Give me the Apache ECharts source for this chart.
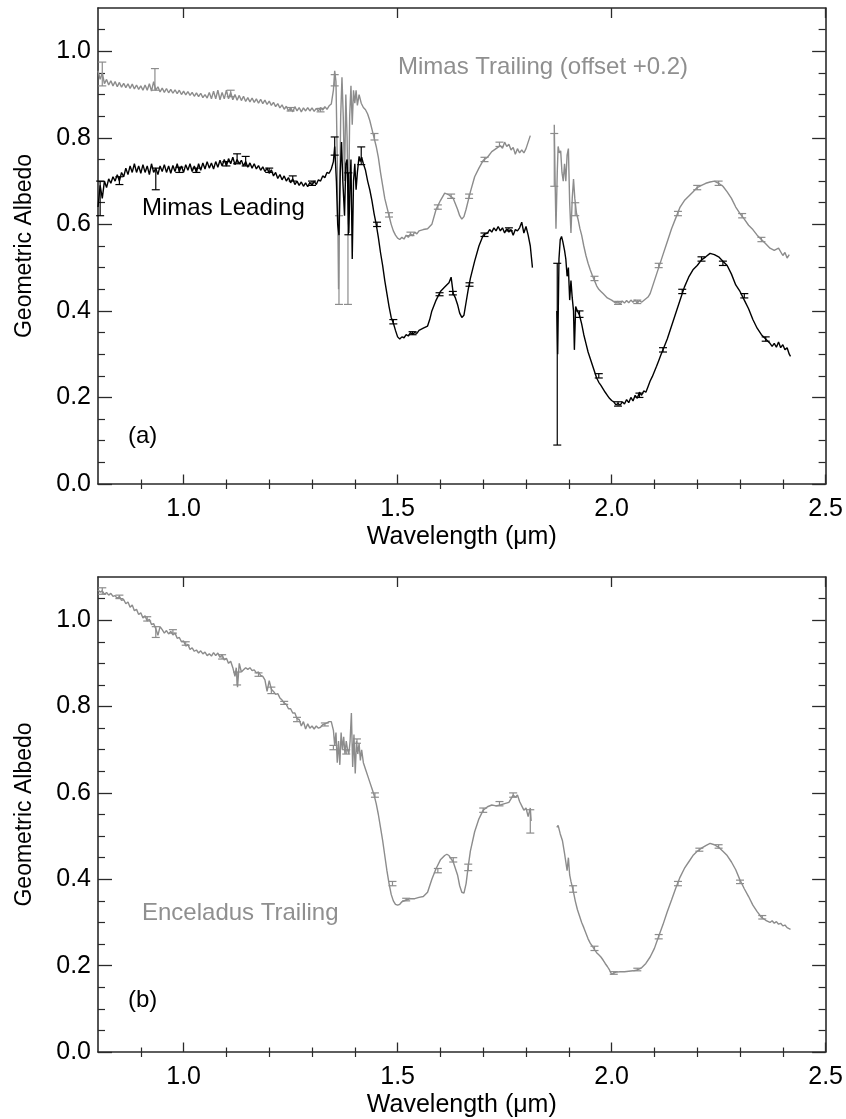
<!DOCTYPE html>
<html>
<head>
<meta charset="utf-8">
<script src="https://cdn.jsdelivr.net/npm/echarts@6/dist/echarts.min.js"></script>
<style>html,body{margin:0;padding:0;background:#fff}#c{width:846px;height:1119px}</style>
</head>
<body>
<div id="c"></div>
<script>
// ---------- tick values ----------
const xMajorTicks = [1.0, 1.5, 2.0, 2.5];
const xMinorTicks = [0.9, 1.1, 1.2, 1.3, 1.4, 1.6, 1.7, 1.8, 1.9, 2.1, 2.2, 2.3, 2.4];
const yMajorTicks = [0.0, 0.2, 0.4, 0.6, 0.8, 1.0];
const yMinorTicks = [0.05, 0.1, 0.15, 0.25, 0.3, 0.35, 0.45, 0.5, 0.55, 0.65, 0.7, 0.75, 0.85, 0.9, 0.95, 1.05];

// ---------- (a) Mimas Leading : [wavelength um, geometric albedo] ----------
const mimasLeading1 = [
[0.800,0.64],[0.805,0.69],[0.810,0.66],[0.815,0.70],[0.820,0.685],[0.825,0.705],[0.830,0.695],[0.835,0.71],[0.840,0.70],[0.845,0.715],
[0.850,0.70],[0.855,0.72],[0.860,0.71],[0.865,0.73],[0.870,0.715],[0.875,0.735],[0.880,0.72],[0.885,0.74],[0.890,0.72],[0.895,0.735],
[0.900,0.718],[0.905,0.738],[0.910,0.72],[0.915,0.735],[0.920,0.715],[0.925,0.74],[0.930,0.72],[0.935,0.73],[0.940,0.715],[0.945,0.735],
[0.950,0.722],[0.955,0.738],[0.960,0.72],[0.965,0.735],[0.970,0.718],[0.975,0.736],[0.980,0.722],[0.985,0.74],[0.990,0.722],[0.995,0.735],
[1.000,0.72],[1.005,0.738],[1.010,0.725],[1.015,0.74],[1.020,0.722],[1.025,0.735],[1.030,0.72],[1.035,0.74],[1.040,0.725],[1.045,0.742],
[1.050,0.728],[1.055,0.745],[1.060,0.73],[1.065,0.742],[1.070,0.728],[1.075,0.745],[1.080,0.732],[1.085,0.748],[1.090,0.735],[1.095,0.75],
[1.100,0.735],[1.105,0.752],[1.110,0.74],[1.115,0.755],[1.120,0.738],[1.125,0.75],[1.130,0.74],[1.135,0.748],[1.140,0.735],[1.145,0.745],
[1.150,0.732],[1.155,0.742],[1.160,0.73],[1.165,0.74],[1.170,0.728],[1.175,0.736],[1.180,0.725],[1.185,0.733],[1.190,0.722],[1.195,0.73],
[1.200,0.718],[1.205,0.726],[1.210,0.712],[1.215,0.72],[1.220,0.706],[1.225,0.715],[1.230,0.703],[1.235,0.712],[1.240,0.70],[1.245,0.708],
[1.250,0.696],[1.255,0.705],[1.260,0.692],[1.265,0.70],[1.270,0.69],[1.275,0.698],[1.280,0.688],[1.285,0.696],[1.290,0.687],[1.295,0.697],
[1.300,0.69],[1.305,0.70],[1.310,0.692],[1.315,0.703],[1.320,0.70],[1.325,0.712],[1.330,0.708],[1.335,0.72],[1.340,0.718],[1.345,0.728],
[1.350,0.745],[1.353,0.78],
[1.357,0.70],[1.360,0.60],[1.363,0.575],[1.366,0.72],[1.369,0.79],[1.372,0.70],[1.376,0.62],[1.379,0.74],[1.382,0.75],[1.386,0.58],
[1.389,0.70],[1.391,0.75],[1.394,0.52],[1.397,0.70],[1.400,0.74],[1.403,0.68],[1.406,0.72],[1.410,0.757],[1.413,0.745],[1.416,0.755],
[1.420,0.74],[1.425,0.725],[1.430,0.70],[1.435,0.68],[1.440,0.655],[1.445,0.625],[1.450,0.60],[1.455,0.57],[1.460,0.535],[1.465,0.505],
[1.470,0.47],[1.475,0.44],[1.480,0.41],[1.485,0.385],[1.490,0.372],[1.495,0.355],[1.500,0.34],[1.505,0.335],[1.510,0.34],[1.515,0.338],
[1.520,0.345],[1.525,0.342],[1.530,0.35],[1.535,0.346],[1.540,0.35],[1.545,0.348],[1.550,0.355],[1.560,0.36],[1.570,0.365],[1.575,0.38],
[1.580,0.40],[1.590,0.425],[1.600,0.445],[1.610,0.455],
[1.620,0.465],[1.625,0.478],[1.630,0.44],[1.635,0.43],[1.640,0.415],[1.645,0.395],[1.650,0.385],[1.655,0.39],[1.660,0.42],[1.665,0.45],
[1.670,0.475],[1.680,0.515],[1.690,0.55],[1.700,0.575],[1.705,0.578],[1.710,0.58],[1.715,0.588],[1.720,0.582],[1.725,0.592],[1.730,0.585],
[1.735,0.595],[1.740,0.585],[1.745,0.592],[1.750,0.58],[1.755,0.59],[1.760,0.582],[1.765,0.588],[1.770,0.575],[1.775,0.588],[1.780,0.585],
[1.785,0.592],[1.790,0.605],[1.795,0.58],[1.800,0.595],[1.805,0.575],[1.810,0.55],[1.815,0.50]
];
const mimasLeading2 = [
[1.872,0.40],[1.874,0.30],[1.877,0.52],[1.880,0.565],[1.883,0.572],[1.886,0.56],[1.890,0.54],[1.893,0.52],[1.896,0.48],[1.899,0.50],
[1.902,0.425],[1.905,0.47],[1.908,0.43],[1.911,0.40],[1.913,0.31],[1.916,0.41],[1.920,0.40],[1.925,0.39],[1.930,0.37],[1.935,0.345],
[1.940,0.325],[1.945,0.305],[1.950,0.29],[1.955,0.275],[1.960,0.26],[1.965,0.245],[1.970,0.235],[1.975,0.228],[1.980,0.22],[1.985,0.212],
[1.990,0.205],[1.995,0.198],[2.000,0.193],[2.005,0.19],[2.010,0.183],[2.015,0.186],[2.020,0.182],[2.025,0.19],[2.030,0.185],[2.035,0.195],
[2.040,0.188],[2.045,0.2],[2.050,0.192],[2.055,0.205],[2.060,0.198],[2.065,0.212],[2.070,0.205],[2.075,0.215],[2.080,0.212],[2.085,0.225],
[2.090,0.238],[2.095,0.248],[2.100,0.26],[2.105,0.272],[2.110,0.285],[2.115,0.298],[2.120,0.31],[2.130,0.335],[2.140,0.365],[2.150,0.395],
[2.160,0.425],[2.170,0.455],[2.180,0.478],[2.190,0.495],[2.200,0.505],[2.210,0.518],[2.220,0.525],[2.230,0.533],[2.240,0.53],[2.250,0.525],
[2.260,0.515],[2.270,0.505],[2.280,0.485],[2.290,0.46],[2.300,0.445],[2.310,0.425],[2.320,0.405],[2.330,0.38],[2.340,0.36],[2.350,0.345],
[2.360,0.335],[2.365,0.33],[2.370,0.325],[2.375,0.318],[2.380,0.325],[2.385,0.316],[2.390,0.328],[2.395,0.315],[2.400,0.322],[2.405,0.31],
[2.410,0.315],[2.415,0.30],[2.418,0.295]
];
// ---------- (a) Mimas Trailing, plotted with offset +0.2 ----------
const mimasTrailing1 = [
[0.800,0.955],[0.805,0.935],[0.810,0.95],[0.815,0.925],[0.820,0.935],[0.825,0.922],[0.830,0.932],[0.835,0.92],[0.840,0.93],[0.845,0.918],
[0.850,0.928],[0.855,0.917],[0.860,0.926],[0.865,0.916],[0.870,0.925],[0.875,0.914],[0.880,0.924],[0.885,0.913],[0.890,0.922],[0.895,0.912],
[0.900,0.92],[0.905,0.91],[0.910,0.922],[0.915,0.91],[0.920,0.925],[0.925,0.908],[0.930,0.93],[0.935,0.91],[0.940,0.918],[0.945,0.906],
[0.950,0.915],[0.955,0.905],[0.960,0.914],[0.965,0.904],[0.970,0.912],[0.975,0.903],[0.980,0.911],[0.985,0.902],[0.990,0.91],[0.995,0.90],
[1.000,0.908],[1.005,0.899],[1.010,0.907],[1.015,0.898],[1.020,0.905],[1.025,0.896],[1.030,0.904],[1.035,0.895],[1.040,0.903],[1.045,0.893],
[1.050,0.90],[1.055,0.892],[1.060,0.905],[1.065,0.89],[1.070,0.908],[1.075,0.89],[1.080,0.91],[1.085,0.888],[1.090,0.905],[1.095,0.89],
[1.100,0.91],[1.105,0.89],[1.110,0.905],[1.115,0.888],[1.120,0.90],[1.125,0.887],[1.130,0.898],[1.135,0.886],[1.140,0.896],[1.145,0.884],
[1.150,0.893],[1.155,0.883],[1.160,0.892],[1.165,0.882],[1.170,0.89],[1.175,0.88],[1.180,0.889],[1.185,0.879],[1.190,0.887],[1.195,0.877],
[1.200,0.885],[1.205,0.875],[1.210,0.882],[1.215,0.872],[1.220,0.879],[1.225,0.869],[1.230,0.876],[1.235,0.866],[1.240,0.873],[1.245,0.862],
[1.250,0.87],[1.255,0.86],[1.260,0.872],[1.265,0.862],[1.270,0.87],[1.275,0.86],[1.280,0.869],[1.285,0.862],[1.290,0.87],[1.295,0.862],
[1.300,0.869],[1.305,0.861],[1.310,0.868],[1.315,0.862],[1.320,0.87],[1.325,0.864],[1.330,0.872],[1.335,0.866],[1.340,0.874],[1.345,0.878],
[1.350,0.91],[1.353,0.955],
[1.356,0.93],[1.359,0.75],[1.362,0.45],[1.364,0.60],[1.367,0.85],[1.370,0.94],[1.373,0.85],[1.376,0.70],[1.379,0.90],[1.382,0.80],
[1.385,0.60],[1.388,0.85],[1.391,0.92],[1.394,0.83],[1.397,0.91],[1.400,0.88],[1.403,0.91],[1.406,0.875],[1.410,0.90],[1.415,0.88],
[1.420,0.87],[1.425,0.865],[1.430,0.855],[1.435,0.84],[1.440,0.82],[1.445,0.80],[1.450,0.78],[1.455,0.755],[1.460,0.72],[1.465,0.69],
[1.470,0.66],[1.475,0.64],[1.480,0.62],[1.485,0.60],[1.490,0.585],[1.495,0.575],[1.500,0.568],[1.505,0.565],[1.510,0.57],[1.515,0.566],
[1.520,0.575],[1.525,0.57],[1.530,0.578],[1.535,0.574],[1.540,0.582],[1.545,0.578],[1.550,0.585],[1.560,0.588],[1.570,0.59],[1.580,0.60],
[1.590,0.635],[1.600,0.655],[1.610,0.672],[1.620,0.668],
[1.630,0.66],[1.640,0.635],[1.645,0.62],[1.650,0.612],[1.655,0.618],[1.660,0.635],[1.670,0.675],[1.680,0.71],[1.690,0.73],[1.700,0.748],
[1.710,0.755],[1.720,0.768],[1.730,0.775],[1.740,0.782],[1.745,0.776],[1.750,0.79],[1.755,0.78],[1.760,0.785],[1.765,0.772],[1.770,0.778],
[1.775,0.762],[1.780,0.775],[1.785,0.765],[1.790,0.772],[1.795,0.765],[1.800,0.775],[1.805,0.79],[1.810,0.805]
];
const mimasTrailing2 = [
[1.866,0.83],[1.868,0.70],[1.870,0.59],[1.873,0.72],[1.875,0.78],[1.878,0.765],[1.881,0.77],[1.884,0.72],[1.887,0.70],[1.890,0.74],
[1.893,0.70],[1.896,0.76],[1.899,0.775],[1.902,0.65],[1.905,0.58],[1.908,0.66],[1.911,0.705],[1.914,0.66],[1.918,0.625],[1.922,0.61],
[1.926,0.59],[1.930,0.575],[1.935,0.55],[1.940,0.528],[1.945,0.51],[1.950,0.495],[1.955,0.482],[1.960,0.47],[1.965,0.458],[1.970,0.45],
[1.975,0.445],[1.980,0.44],[1.985,0.435],[1.990,0.43],[2.000,0.425],[2.010,0.418],[2.015,0.422],[2.020,0.416],[2.025,0.423],[2.030,0.418],
[2.035,0.424],[2.040,0.419],[2.045,0.425],[2.050,0.42],[2.055,0.425],[2.060,0.418],[2.065,0.424],[2.070,0.42],[2.080,0.428],[2.085,0.432],
[2.090,0.44],[2.095,0.455],[2.100,0.47],[2.105,0.485],[2.110,0.50],[2.120,0.53],
[2.130,0.56],[2.140,0.59],[2.150,0.615],[2.160,0.64],[2.170,0.655],[2.180,0.665],[2.190,0.675],[2.200,0.685],[2.210,0.69],[2.220,0.695],
[2.230,0.698],[2.240,0.70],[2.250,0.695],[2.260,0.688],[2.270,0.675],[2.280,0.66],[2.290,0.64],[2.300,0.625],[2.310,0.612],[2.320,0.598],
[2.330,0.588],[2.340,0.575],[2.350,0.565],[2.360,0.555],[2.370,0.545],[2.380,0.54],[2.390,0.545],[2.400,0.528],[2.405,0.535],[2.410,0.522],
[2.415,0.53]
];
// ---------- (b) Enceladus Trailing ----------
const enceladusTrailing1 = [
[0.800,1.07],[0.805,1.065],[0.810,1.068],[0.815,1.06],[0.820,1.064],[0.825,1.058],[0.830,1.062],[0.835,1.055],[0.840,1.057],[0.845,1.05],
[0.850,1.055],[0.855,1.046],[0.860,1.048],[0.865,1.038],[0.870,1.042],[0.875,1.03],[0.880,1.035],[0.885,1.022],[0.890,1.025],[0.895,1.013],
[0.900,1.017],[0.905,1.005],[0.910,1.01],[0.915,0.998],[0.920,1.002],[0.925,0.99],[0.930,0.992],
[0.935,0.98],[0.940,0.965],[0.945,0.985],[0.950,0.978],[0.955,0.97],[0.960,0.976],[0.965,0.968],[0.970,0.974],[0.975,0.966],[0.980,0.97],
[0.985,0.958],[0.990,0.96],[0.995,0.95],[1.000,0.952],[1.005,0.94],[1.010,0.944],[1.015,0.932],[1.020,0.936],[1.025,0.928],[1.030,0.931],
[1.035,0.924],[1.040,0.929],[1.045,0.922],[1.050,0.926],[1.055,0.918],[1.060,0.922],[1.065,0.917],[1.070,0.925],[1.075,0.918],[1.080,0.924],
[1.085,0.914],[1.090,0.92],[1.095,0.908],[1.100,0.912],[1.105,0.9],[1.110,0.905],[1.115,0.89],[1.120,0.87],[1.123,0.89],[1.126,0.845],[1.130,0.90],
[1.135,0.88],[1.140,0.885],[1.145,0.89],[1.150,0.886],[1.155,0.89],[1.160,0.883],[1.165,0.885],[1.170,0.878],[1.175,0.88],[1.180,0.872],
[1.185,0.87],[1.190,0.862],[1.195,0.835],[1.200,0.86],[1.205,0.84],
[1.210,0.835],[1.215,0.828],[1.220,0.83],[1.225,0.82],[1.230,0.815],[1.235,0.808],[1.240,0.805],[1.245,0.795],[1.250,0.795],[1.255,0.785],
[1.260,0.785],[1.265,0.772],[1.270,0.77],[1.275,0.755],[1.280,0.765],[1.285,0.748],
[1.290,0.76],[1.295,0.75],[1.300,0.755],[1.305,0.748],[1.310,0.755],[1.315,0.75],[1.320,0.752],[1.325,0.758],[1.330,0.76],[1.335,0.762],
[1.340,0.765],[1.345,0.765],[1.350,0.745],[1.353,0.71],[1.356,0.74],
[1.359,0.67],[1.362,0.72],[1.365,0.665],[1.368,0.74],[1.371,0.70],[1.374,0.73],[1.377,0.69],[1.380,0.72],[1.383,0.70],[1.386,0.69],
[1.389,0.72],[1.392,0.785],[1.395,0.66],[1.398,0.735],[1.401,0.645],[1.404,0.72],[1.407,0.69],[1.410,0.715],[1.413,0.675],[1.416,0.70],
[1.420,0.67],[1.425,0.655],[1.430,0.64],[1.435,0.625],[1.440,0.61],[1.445,0.595],[1.450,0.575],[1.455,0.55],[1.460,0.52],[1.465,0.49],
[1.470,0.455],[1.475,0.42],[1.480,0.39],[1.485,0.365],[1.490,0.35],[1.495,0.342],[1.500,0.34],[1.505,0.342],[1.510,0.348],[1.520,0.352],
[1.530,0.355],[1.540,0.355],[1.550,0.358],[1.560,0.36],[1.570,0.37],[1.580,0.40],[1.590,0.425],[1.600,0.445],[1.610,0.455],[1.615,0.458],
[1.620,0.455],[1.630,0.44],[1.640,0.41],[1.645,0.385],[1.650,0.37],[1.655,0.368],[1.660,0.39],[1.665,0.43],[1.670,0.465],[1.680,0.51],
[1.690,0.54],[1.700,0.56],[1.710,0.568],[1.720,0.572],[1.730,0.57],[1.740,0.572],[1.750,0.575],[1.760,0.578],[1.770,0.595],[1.775,0.59],
[1.780,0.595],[1.785,0.58],[1.790,0.57],[1.795,0.56],[1.800,0.565],[1.805,0.545],[1.810,0.565],[1.812,0.535]
];
const enceladusTrailing2 = [
[1.872,0.52],[1.875,0.525],[1.880,0.505],[1.885,0.49],[1.890,0.46],[1.893,0.44],[1.896,0.42],[1.899,0.45],[1.902,0.41],[1.905,0.395],
[1.910,0.375],[1.915,0.35],[1.920,0.33],[1.925,0.315],[1.930,0.30],[1.935,0.288],[1.940,0.275],[1.945,0.262],[1.950,0.252],[1.955,0.245],
[1.960,0.237],[1.965,0.23],[1.970,0.225],[1.975,0.22],[1.980,0.213],[1.985,0.205],[1.990,0.198],[1.995,0.19],[2.000,0.18],[2.005,0.183],
[2.010,0.185],[2.020,0.186],[2.030,0.186],[2.040,0.187],[2.050,0.188],[2.060,0.19],[2.070,0.195],[2.080,0.205],[2.090,0.22],[2.100,0.24],
[2.110,0.268],[2.120,0.295],[2.130,0.325],[2.140,0.352],[2.150,0.38],[2.160,0.405],[2.170,0.425],[2.180,0.44],[2.190,0.455],[2.200,0.465],
[2.210,0.472],[2.220,0.478],[2.230,0.483],[2.240,0.48],[2.250,0.474],[2.260,0.465],[2.270,0.455],[2.280,0.44],[2.290,0.422],[2.300,0.398],
[2.310,0.378],[2.320,0.36],[2.330,0.34],[2.340,0.325],[2.350,0.312],[2.360,0.305],[2.370,0.30],[2.375,0.304],[2.380,0.298],[2.385,0.302],
[2.390,0.296],[2.395,0.298],[2.400,0.292],[2.405,0.294],[2.410,0.288],[2.418,0.284]
];

// ---------- error bars : [wavelength, low, high] ----------
const mimasLeadingErr = [
[0.805,0.62,0.70],[0.85,0.692,0.71],[0.935,0.68,0.73],[0.99,0.72,0.732],[1.03,0.72,0.73],[1.10,0.735,0.745],[1.125,0.74,0.763],
[1.145,0.735,0.757],[1.20,0.72,0.73],[1.255,0.70,0.712],[1.30,0.69,0.70],[1.353,0.76,0.802],[1.385,0.576,0.719],[1.415,0.738,0.779],
[1.452,0.595,0.605],[1.49,0.37,0.38],[1.535,0.345,0.352],[1.598,0.435,0.442],[1.629,0.437,0.445],[1.668,0.457,0.465],[1.703,0.572,0.58],
[1.76,0.585,0.592],[1.873,0.09,0.51],[1.925,0.385,0.40],[1.97,0.245,0.255],[2.015,0.18,0.19],[2.065,0.20,0.21],[2.12,0.305,0.315],
[2.165,0.44,0.45],[2.21,0.515,0.525],[2.26,0.505,0.515],[2.31,0.43,0.44],[2.36,0.33,0.34]
];
const mimasTrailingErr = [
[0.81,0.92,0.975],[0.933,0.91,0.96],[1.11,0.895,0.91],[1.25,0.862,0.87],[1.32,0.86,0.868],[1.353,0.92,0.946],[1.363,0.415,0.62],
[1.384,0.415,0.72],[1.446,0.795,0.81],[1.48,0.617,0.627],[1.53,0.574,0.582],[1.594,0.635,0.645],[1.625,0.66,0.67],[1.667,0.66,0.67],
[1.703,0.745,0.755],[1.738,0.78,0.79],[1.866,0.688,0.81],[1.915,0.62,0.65],[1.96,0.47,0.48],[2.015,0.415,0.422],[2.06,0.417,0.425],
[2.11,0.50,0.51],[2.155,0.62,0.63],[2.20,0.68,0.69],[2.25,0.69,0.70],[2.305,0.615,0.625],[2.35,0.56,0.57]
];
const enceladusTrailingErr = [
[0.81,1.06,1.075],[0.85,1.05,1.058],[0.915,0.998,1.008],[0.935,0.96,0.985],[0.975,0.97,0.978],[1.005,0.942,0.95],[1.09,0.91,0.92],
[1.125,0.85,0.88],[1.175,0.87,0.878],[1.205,0.83,0.845],[1.235,0.805,0.812],[1.265,0.765,0.775],[1.33,0.755,0.762],[1.35,0.70,0.71],
[1.38,0.69,0.70],[1.405,0.715,0.725],[1.447,0.59,0.60],[1.488,0.385,0.395],[1.52,0.35,0.356],[1.594,0.415,0.425],[1.63,0.44,0.45],
[1.665,0.42,0.435],[1.70,0.555,0.565],[1.738,0.57,0.58],[1.77,0.59,0.60],[1.81,0.507,0.561],[1.91,0.37,0.385],[1.96,0.235,0.245],
[2.005,0.18,0.186],[2.06,0.188,0.194],[2.11,0.262,0.272],[2.155,0.385,0.395],[2.205,0.465,0.472],[2.25,0.472,0.48],[2.30,0.39,0.398],
[2.352,0.308,0.316]
];

// ---------- styling ----------
const FONT = '"Liberation Sans", Arial, Helvetica, sans-serif';
const AXC = '#2a2a2a';
const GRAY = '#8c8c8c';
const GRAY_TXT = '#8f8f8f';

const grids = [
  {left: 98, top: 8, width: 729, height: 476},
  {left: 98, top: 577, width: 729, height: 476}
];

function xAxes(g) {
  const base = {type: 'value', gridIndex: g, min: 0.8, max: 2.5, splitLine: {show: false}};
  return [
    Object.assign({}, base, {
      position: 'bottom',
      axisLine: {show: true, onZero: false, lineStyle: {color: AXC, width: 1.6}},
      axisTick: {show: true, inside: true, length: 9.5, customValues: xMajorTicks, lineStyle: {color: AXC, width: 1.3}},
      axisLabel: {show: true, customValues: xMajorTicks, margin: 13, color: '#000', fontSize: 25, fontFamily: FONT,
                  formatter: v => v.toFixed(1)},
      name: 'Wavelength (\u03bcm)', nameLocation: 'middle', nameGap: 41,
      nameTextStyle: {color: '#000', fontSize: 25, fontFamily: FONT}
    }),
    Object.assign({}, base, {
      position: 'bottom',
      axisLine: {show: false},
      axisTick: {show: true, inside: true, length: 4.5, customValues: xMinorTicks, lineStyle: {color: AXC, width: 1.2}},
      axisLabel: {show: false}
    }),
    Object.assign({}, base, {
      position: 'top',
      axisLine: {show: true, onZero: false, lineStyle: {color: AXC, width: 1.6}},
      axisTick: {show: true, inside: true, length: 10, customValues: xMajorTicks, lineStyle: {color: AXC, width: 1.3}},
      axisLabel: {show: false}
    }),
    Object.assign({}, base, {
      position: 'top',
      axisLine: {show: false},
      axisTick: {show: true, inside: true, length: 5, customValues: xMinorTicks, lineStyle: {color: AXC, width: 1.2}},
      axisLabel: {show: false}
    })
  ];
}
function yAxes(g) {
  const base = {type: 'value', gridIndex: g, min: 0, max: 1.1, splitLine: {show: false}};
  return [
    Object.assign({}, base, {
      position: 'left',
      axisLine: {show: true, onZero: false, lineStyle: {color: AXC, width: 1.6}},
      axisTick: {show: true, inside: true, length: 14, customValues: yMajorTicks, lineStyle: {color: AXC, width: 1.3}},
      axisLabel: {show: true, customValues: yMajorTicks, margin: 7, color: '#000', fontSize: 25, fontFamily: FONT,
                  formatter: v => v.toFixed(1)},
      name: 'Geometric Albedo', nameLocation: 'middle', nameGap: 62, nameRotate: 90,
      nameTextStyle: {color: '#000', fontSize: 23, fontFamily: FONT}
    }),
    Object.assign({}, base, {
      position: 'left',
      axisLine: {show: false},
      axisTick: {show: true, inside: true, length: 7, customValues: yMinorTicks, lineStyle: {color: AXC, width: 1.2}},
      axisLabel: {show: false}
    }),
    Object.assign({}, base, {
      position: 'right',
      axisLine: {show: true, onZero: false, lineStyle: {color: AXC, width: 1.6}},
      axisTick: {show: true, inside: true, length: 13.5, customValues: yMajorTicks, lineStyle: {color: AXC, width: 1.3}},
      axisLabel: {show: false}
    }),
    Object.assign({}, base, {
      position: 'right',
      axisLine: {show: false},
      axisTick: {show: true, inside: true, length: 7, customValues: yMinorTicks, lineStyle: {color: AXC, width: 1.2}},
      axisLabel: {show: false}
    })
  ];
}

function lineSeries(data, color, axisIdx, z) {
  return {
    type: 'line', data: data, xAxisIndex: axisIdx, yAxisIndex: axisIdx,
    showSymbol: false, symbol: 'none', smooth: false, z: z,
    lineStyle: {color: color, width: 1.4}, silent: true
  };
}
function errSeries(data, color, axisIdx, z) {
  return {
    type: 'custom', data: data, xAxisIndex: axisIdx, yAxisIndex: axisIdx, z: z, silent: true,
    encode: {x: 0, y: [1, 2]},
    renderItem: function (params, api) {
      const lo = api.coord([api.value(0), api.value(1)]);
      const hi = api.coord([api.value(0), api.value(2)]);
      const w = 4;
      const st = {stroke: color, lineWidth: 1.2, fill: null};
      return {
        type: 'group',
        children: [
          {type: 'line', shape: {x1: lo[0], y1: lo[1], x2: hi[0], y2: hi[1]}, style: st},
          {type: 'line', shape: {x1: lo[0] - w, y1: lo[1], x2: lo[0] + w, y2: lo[1]}, style: st},
          {type: 'line', shape: {x1: hi[0] - w, y1: hi[1], x2: hi[0] + w, y2: hi[1]}, style: st}
        ]
      };
    }
  };
}

const chart = echarts.init(document.getElementById('c'), null, {renderer: 'canvas'});
chart.setOption({
  animation: false,
  backgroundColor: '#fff',
  grid: grids,
  xAxis: xAxes(0).concat(xAxes(1)),
  yAxis: yAxes(0).concat(yAxes(1)),
  series: [
    lineSeries(mimasTrailing1, GRAY, 0, 2),
    lineSeries(mimasTrailing2, GRAY, 0, 2),
    errSeries(mimasTrailingErr, GRAY, 0, 2),
    lineSeries(mimasLeading1, '#000', 0, 3),
    lineSeries(mimasLeading2, '#000', 0, 3),
    errSeries(mimasLeadingErr, '#000', 0, 3),
    lineSeries(enceladusTrailing1, GRAY, 4, 2),
    lineSeries(enceladusTrailing2, GRAY, 4, 2),
    errSeries(enceladusTrailingErr, GRAY, 4, 2)
  ],
  graphic: [
    {type: 'text', left: 398, top: 55, style: {text: 'Mimas Trailing (offset +0.2)', fill: GRAY_TXT, font: '24px ' + FONT}},
    {type: 'text', left: 142, top: 196, style: {text: 'Mimas Leading', fill: '#000', font: '24px ' + FONT}},
    {type: 'text', left: 128, top: 424, style: {text: '(a)', fill: '#000', font: '24px ' + FONT}},
    {type: 'text', left: 142, top: 901, style: {text: 'Enceladus Trailing', fill: GRAY_TXT, font: '24px ' + FONT}},
    {type: 'text', left: 128, top: 988, style: {text: '(b)', fill: '#000', font: '24px ' + FONT}}
  ]
});
</script>
</body>
</html>
